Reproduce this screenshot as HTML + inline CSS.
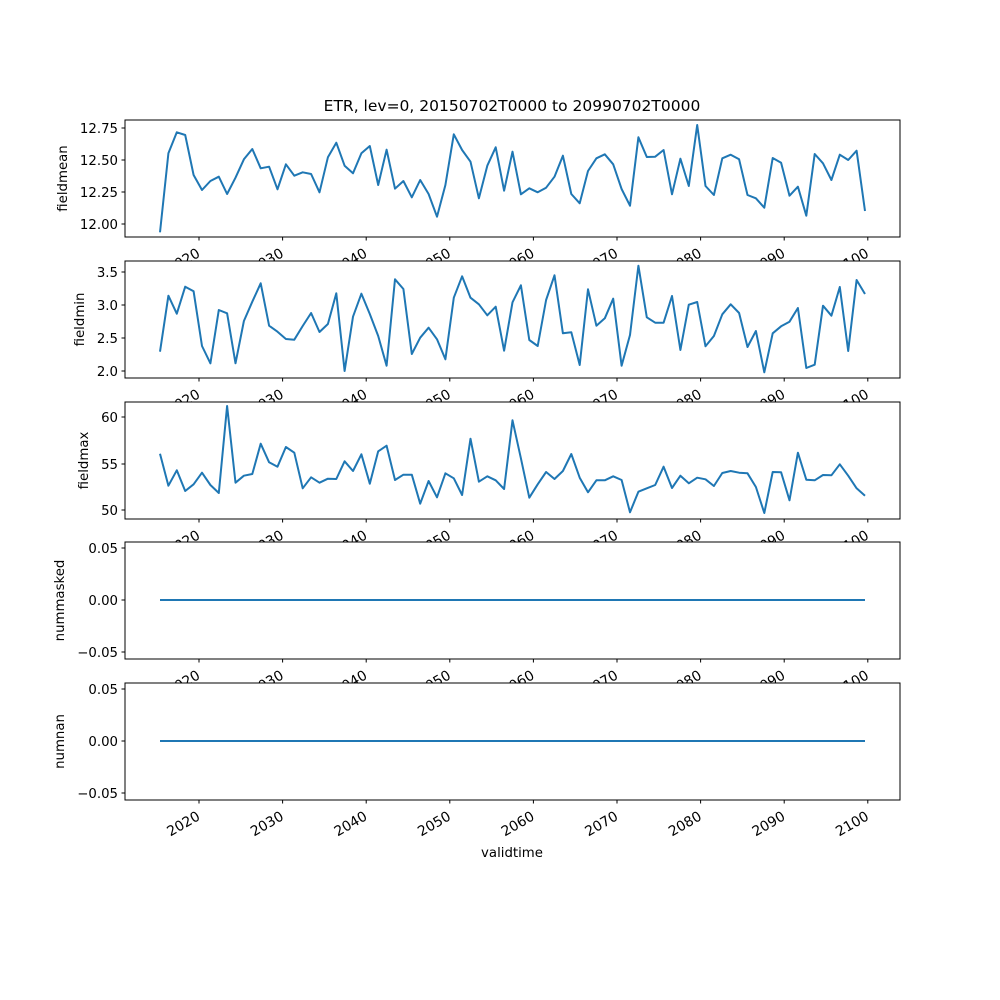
<!DOCTYPE html>
<html><head><meta charset="utf-8"><style>body{margin:0;background:#fff}svg{display:block}</style></head>
<body>
<svg id="s" width="1000" height="1000" xmlns="http://www.w3.org/2000/svg" font-family="DejaVu Sans, Liberation Sans, sans-serif" font-size="13.3">
<rect width="1000" height="1000" fill="#fff"/>
<text x="512" y="111" text-anchor="middle" font-size="15.5">ETR, lev=0, 20150702T0000 to 20990702T0000</text>
<g id="g"></g>
<text x="512" y="857" text-anchor="middle">validtime</text>
</svg>
<script>
var p1a=[352,115,52,60,180,225,198,185,237,188,133,102,160,155,223,148,182,172,177,232,127,83,152,175,115,93,210,104,221,198,247,195,237,305,210,58,105,140,250,152,97,227,110];
var p1b=[238,220,232,218,185,122,237,265,168,130,118,148,222,272,67,126,125,105,238,131,213,30,213,240,130,119,133,240,250,278,129,143,242,215,302,117,145,195,119,135,107,288];
var p2a=[710,542,596,515,529,693,745,585,595,745,618,560,505,632,650,672,674,633,594,651,627,535,768,605,536,597,663,752,493,522,717,668,638,673,733,548,484,548,568,601,575,707,562];
var p2b=[511,675,693,555,481,655,652,750,523,632,610,551,752,660,452,607,623,623,543,705,569,561,694,663,598,568,594,696,648,772,655,634,620,579,759,749,572,602,516,708,495,537];
var p3=[176,272,226,288,268,233,270,294,33,263,242,237,146,202,215,156,173,280,247,263,251,252,199,228,178,266,169,152,255,239,239,326,258,307,235,250,300,131,260,244,256,282,76,190,308,268,231,252,228,177,248,292,256,256,244,255,352,290,280,270,215,279,242,265,248,253,273,234,228,233,235,276,354,231,232,316,173,254,256,240,241,208,242,280,302];
var Y1=p1a.concat(p1b).map(v=>115+v/3), Y2=p2a.concat(p2b).map(v=>115+v/3), Y3=p3.map(v=>395+v/3);
function X(i){return 160+i*8.393;}
function line(Y){return '<polyline fill="none" stroke="#1f77b4" stroke-width="2" stroke-linejoin="round" points="'+Y.map((y,i)=>X(i).toFixed(1)+','+y.toFixed(1)).join(' ')+'"/>';}
var panels=[
 {t:120,b:237,lab:'fieldmean',lx:67,ticks:[[128,'12.75'],[160,'12.50'],[192,'12.25'],[224,'12.00']],d:line(Y1)},
 {t:261,b:378,lab:'fieldmin',lx:84,ticks:[[272,'3.5'],[305,'3.0'],[338,'2.5'],[371,'2.0']],d:line(Y2)},
 {t:402,b:519,lab:'fieldmax',lx:88,ticks:[[417,'60'],[464,'55'],[510,'50']],d:line(Y3)},
 {t:542,b:659,lab:'nummasked',lx:64,ticks:[[548,'0.05'],[600,'0.00'],[652,'−0.05']],d:'<line x1="160" x2="865" y1="600" y2="600" stroke="#1f77b4" stroke-width="2"/>'},
 {t:683,b:800,lab:'numnan',lx:64,ticks:[[689,'0.05'],[741,'0.00'],[793,'−0.05']],d:'<line x1="160" x2="865" y1="741" y2="741" stroke="#1f77b4" stroke-width="2"/>'}];
var yrs=[2020,2030,2040,2050,2060,2070,2080,2090,2100];
var h='';
panels.forEach(p=>{
 h+='<rect x="125" y="'+p.t+'" width="775" height="'+(p.b-p.t)+'" fill="#fff"/>';
 h+=p.d;
 h+='<rect x="125" y="'+p.t+'" width="775" height="'+(p.b-p.t)+'" fill="none" stroke="#000" stroke-width="1"/>';
 p.ticks.forEach(t=>{h+='<line x1="121.5" x2="125" y1="'+t[0]+'" y2="'+t[0]+'" stroke="#000"/><text x="118" y="'+(t[0]+5)+'" text-anchor="end">'+t[1]+'</text>';});
 var cy=(p.t+p.b)/2;
 h+='<text transform="translate('+p.lx+','+cy+') rotate(-90)" text-anchor="middle">'+p.lab+'</text>';
 yrs.forEach((yr,k)=>{var tx=199+83.6*k;
  h+='<line x1="'+tx+'" x2="'+tx+'" y1="'+p.b+'" y2="'+(p.b+3.5)+'" stroke="#000"/>';
  h+='<text transform="translate('+(tx+2)+','+(p.b+19)+') rotate(-30)" text-anchor="end" font-size="13.9">'+yr+'</text>';});
});
document.getElementById('g').innerHTML=h;
</script>
</body></html>
